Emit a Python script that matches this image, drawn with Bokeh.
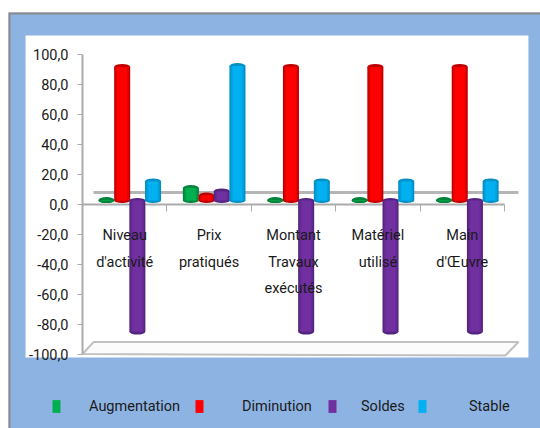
from bokeh.plotting import figure
from bokeh.models import LinearAxis, FixedTicker, Legend, LegendItem
from bokeh.core.properties import value
from bokeh.embed import file_html
from bokeh.resources import INLINE

categories = [["Niveau", "d'activité"], ["Prix", "pratiqués"], ["Montant", "Travaux", "exécutés"],
              ["Matériel", "utilisé"], ["Main", "d'Œuvre"]]
series_names = ["Augmentation", "Diminution", "Soldes", "Stable"]
augmentation = [3, 11, 3, 3, 3]
diminution = [92, 6, 92, 92, 92]
soldes = [-85, 8.7, -85, -85, -85]
stable = [15.4, 92.6, 15.4, 15.4, 15.4]
y_ticks = [100, 80, 60, 40, 20, 0, -20, -40, -60, -80, -100]
y_labels = ["100,0", "80,0", "60,0", "40,0", "20,0", "0,0", "-20,0", "-40,0", "-60,0", "-80,0", "-100,0"]

BLUE_BG = "#8DB3E2"
FONT = "Roboto"
FS = "14.5px"
GRAY = "#ABABAB"
base = 2.7  # 3D chart floor

X0, X1 = -0.877, 5.427
Y0, Y1 = -149.8, 128.4
p = figure(width=532, height=416, output_backend="svg", toolbar_location=None,
           x_range=(X0, X1), y_range=(Y0, Y1), x_axis_type=None, y_axis_type=None,
           min_border=0, background_fill_color=BLUE_BG, border_fill_color=BLUE_BG,
           outline_line_color=None)
p.margin = (12, 0, 0, 8)
p.grid.visible = False

# white chart panel and sheet edge
p.quad(left=[-0.675], right=[5.284], top=[113], bottom=[-102.4], fill_color="white", line_color=None, level="underlay")
p.line([X0, X0, X1], [Y0, Y1, Y1], line_color="#8A8A8A", line_width=4, level="underlay")

yax = LinearAxis(fixed_location=0, bounds=(-100, 100), ticker=FixedTicker(ticks=y_ticks),
                 major_label_overrides={t: l for t, l in zip(y_ticks, y_labels)},
                 major_label_text_font=FONT, major_label_text_font_size=FS, major_label_standoff=9,
                 major_label_text_color="#1a1a1a", axis_line_color=GRAY, axis_line_width=2,
                 major_tick_line_color=GRAY, major_tick_in=0, major_tick_out=5,
                 minor_tick_line_color=None, level="underlay")
p.add_layout(yax, "left")
xax = LinearAxis(fixed_location=0, bounds=(0, 5), ticker=FixedTicker(ticks=[0, 1, 2, 3, 4, 5]),
                 major_label_text_color=None, axis_line_color=GRAY, axis_line_width=2,
                 major_tick_line_color=GRAY, major_tick_in=0, major_tick_out=7,
                 minor_tick_line_color=None, level="underlay")
p.add_layout(xax, "below")

# 3D floor
p.line([0.13, 5.166], [8, 8], line_color="#B5B5B5", line_width=3, level="underlay")
p.patch([0, 0.13, 5.166, 5.01], [-100, -92, -92, -101], fill_color="#FBFBFB",
        line_color="#C0C0C0", line_width=2, level="underlay")

offsets = [0.284, 0.47, 0.65, 0.836]
bar_w = 0.19
colors = [("#00B050", "#00843C", "#009A46"), ("#FF0000", "#C00000", "#E60000"),
          ("#7030A0", "#552480", "#652B92"), ("#00B0F0", "#0090C6", "#00A0DC")]
renderers = []
for vals, off, (c, dark, mid) in zip([augmentation, diminution, soldes, stable], offsets, colors):
    xs = [i + off for i in range(5)]
    p.vbar(xs, width=bar_w, bottom=base, top=vals, fill_color=dark, line_color=None)
    p.ellipse(xs, [base] * 5, width=bar_w, height=5, height_units="screen", fill_color=dark, line_color=None)
    p.ellipse(xs, vals, width=bar_w, height=6, height_units="screen", fill_color=dark, line_color=None)
    p.vbar(xs, width=bar_w * 0.82, bottom=base, top=vals, fill_color=mid, line_color=None)
    r = p.vbar(xs, width=bar_w * 0.6, bottom=base, top=vals, fill_color=c, line_color=None)
    renderers.append(r)

for i, lines in enumerate(categories):
    for j, t in enumerate(lines):
        p.text([i + 0.5], [0], text=[t], text_font=value(FONT), text_font_size=FS,
               text_color="#1a1a1a", text_align="center", text_baseline="middle", y_offset=31 + j * 26.5)

leg_pos = [(51, 28), (194, 38), (327, 24), (417, 42)]
for r, name, (sx, st) in zip(renderers, series_names, leg_pos):
    lg = Legend(items=[LegendItem(label=name, renderers=[r], index=0)], location=(sx - 8, 10),
                background_fill_alpha=0, border_line_color=None, glyph_width=10, glyph_height=16,
                label_standoff=st, label_text_font=FONT, label_text_font_size=FS,
                label_text_baseline="top", label_text_color="#1a1a1a", padding=0, margin=0, label_height=24)
    p.add_layout(lg, "center")

open("out.html", "w").write(file_html(p, INLINE))
